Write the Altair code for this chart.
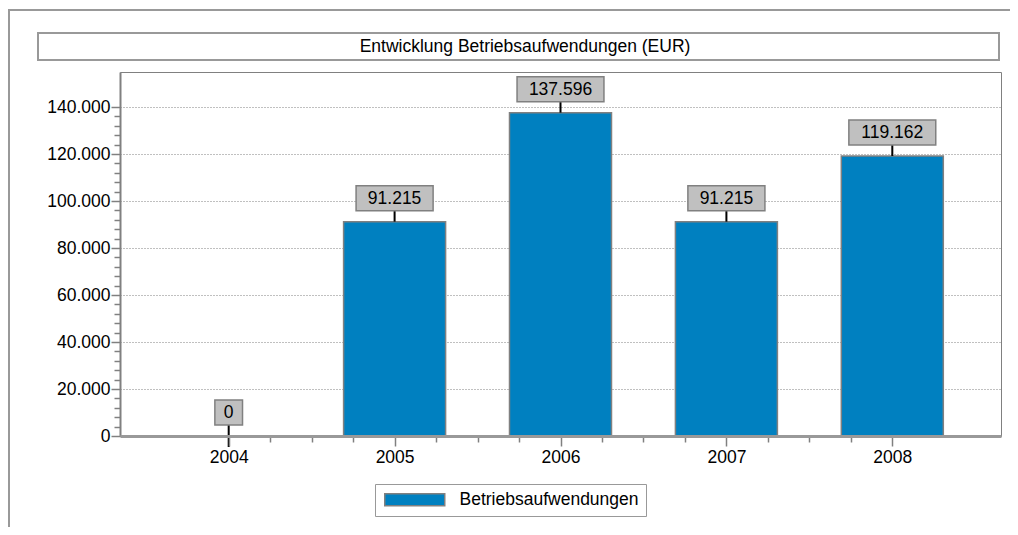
import altair as alt
import pandas as pd

# ---- data ----
years = [2004, 2005, 2006, 2007, 2008]
values = [0, 91215, 137596, 91215, 119162]
series = "Betriebsaufwendungen"
chart_title = "Entwicklung Betriebsaufwendungen (EUR)"
x_ticks = [2004 + 0.25 * k for k in range(17)]
y_ticks = list(range(0, 140001, 4000))

df = pd.DataFrame({"year": years, "value": values, "series": [series] * len(years)})

FONT = "Liberation Sans"
FS = 17.5
GREY = "#808080"
BAR = "#0080C0"

x_axis = alt.Axis(
    values=x_ticks,
    title=None,
    labelExpr="datum.value % 1 === 0 ? format(datum.value, 'd') : ''",
    tickSize={"condition": {"test": "datum.value % 1 === 0", "value": 10}, "value": 6},
    tickColor=GREY,
    tickWidth=1.5,
    domainColor="#999999",
    domainWidth=3,
    labelFont=FONT,
    labelFontSize=FS,
    labelColor="black",
    labelPadding=2,
    grid=False,
    zindex=1,
)
y_axis = alt.Axis(
    values=y_ticks,
    title=None,
    labelExpr="datum.value % 20000 === 0 ? replace(format(datum.value, ','), ',', '.') : ''",
    tickSize={"condition": {"test": "datum.value % 20000 === 0", "value": 9}, "value": 6},
    tickColor=GREY,
    tickWidth=1.5,
    domainColor=GREY,
    domainWidth=2,
    labelFont=FONT,
    labelFontSize=FS,
    labelColor="black",
    labelPadding=1,
    grid=True,
    gridColor=GREY,
    gridDash=[1, 2],
    gridWidth=1,
    gridOpacity={"condition": {"test": "datum.value % 20000 === 0", "value": 1}, "value": 0},
)
x_scale = alt.Scale(domain=[2003.375, 2008.625], nice=False, zero=False)
y_scale = alt.Scale(domain=[0, 154894], nice=False)


def X(field):
    return alt.X(field, type="quantitative", scale=x_scale, axis=x_axis)


Y = alt.Y("value:Q", scale=y_scale, axis=y_axis)

one = pd.DataFrame({"k": [0]})

outer = alt.Chart(one).mark_rect(filled=False, stroke="#999999", strokeWidth=2).encode(
    x=alt.value(-111), x2=alt.value(1200), y=alt.value(-62), y2=alt.value(800)
)
title_box = alt.Chart(one).mark_rect(filled=False, stroke="#999999", strokeWidth=2).encode(
    x=alt.value(-82), x2=alt.value(879), y=alt.value(-39), y2=alt.value(-12)
)
title_text = alt.Chart(pd.DataFrame({"t": [chart_title]})).mark_text(
    font=FONT, fontSize=FS, color="black", baseline="middle", align="center"
).encode(x=alt.value(405), y=alt.value(-25), text="t:N")

bars = alt.Chart(df).transform_filter("datum.value > 0").mark_bar(
    width=102, stroke=GREY, strokeWidth=1.5
).encode(
    x=X("year"),
    y=Y,
    color=alt.Color(
        "series:N",
        scale=alt.Scale(range=[BAR]),
        legend=alt.Legend(
            title=None,
            orient="none",
            legendX=255,
            legendY=412,
            strokeColor="#999999",
            fillColor="white",
            padding=7,
            symbolType="M-5,-1H5V1H-5Z",
            symbolSize=144,
            symbolOffset=24,
            symbolStrokeColor=GREY,
            symbolStrokeWidth=1.5,
            symbolOpacity=1,
            labelFont=FONT,
            labelFontSize=FS,
            labelColor="black",
            labelOffset=36,
            labelLimit=400,
        ),
    ),
)

labelled = alt.Chart(df).transform_calculate(
    label="replace(format(datum.value, ','), ',', '.')"
).transform_calculate(
    lo="datum.year - (length(datum.label) * 10 + 18) / 336",
    hi="datum.year + (length(datum.label) * 10 + 18) / 336",
)

boxes = labelled.mark_rect(
    fill="#C0C0C0", stroke=GREY, strokeWidth=1.5, yOffset=-11, y2Offset=-36
).encode(x=X("lo"), x2="hi:Q", y=Y, y2="value:Q")

leaders = labelled.mark_rule(color="black", strokeWidth=2, y2Offset=-11).encode(
    x=X("year"), y=Y, y2="value:Q"
)
zero_leader = labelled.transform_filter("datum.value === 0").mark_rule(
    color="black", strokeWidth=2, yOffset=11
).encode(x=X("year"), y=Y, y2="value:Q")

texts = labelled.mark_text(
    font=FONT, fontSize=FS, color="black", baseline="middle", dy=-23
).encode(x=X("year"), y=Y, text="label:N")

chart = (
    alt.layer(outer, title_box, title_text, bars, leaders, zero_leader, boxes, texts)
    .properties(
        width=881,
        height=364,
        autosize=alt.AutoSizeParams(type="none"),
        padding={"left": 112, "top": 64, "right": 9, "bottom": 91},
        background="white",
    )
    .configure_view(stroke=GREY, strokeWidth=1)
)

chart.save("out.html", embed_options={"renderer": "svg", "actions": False})
